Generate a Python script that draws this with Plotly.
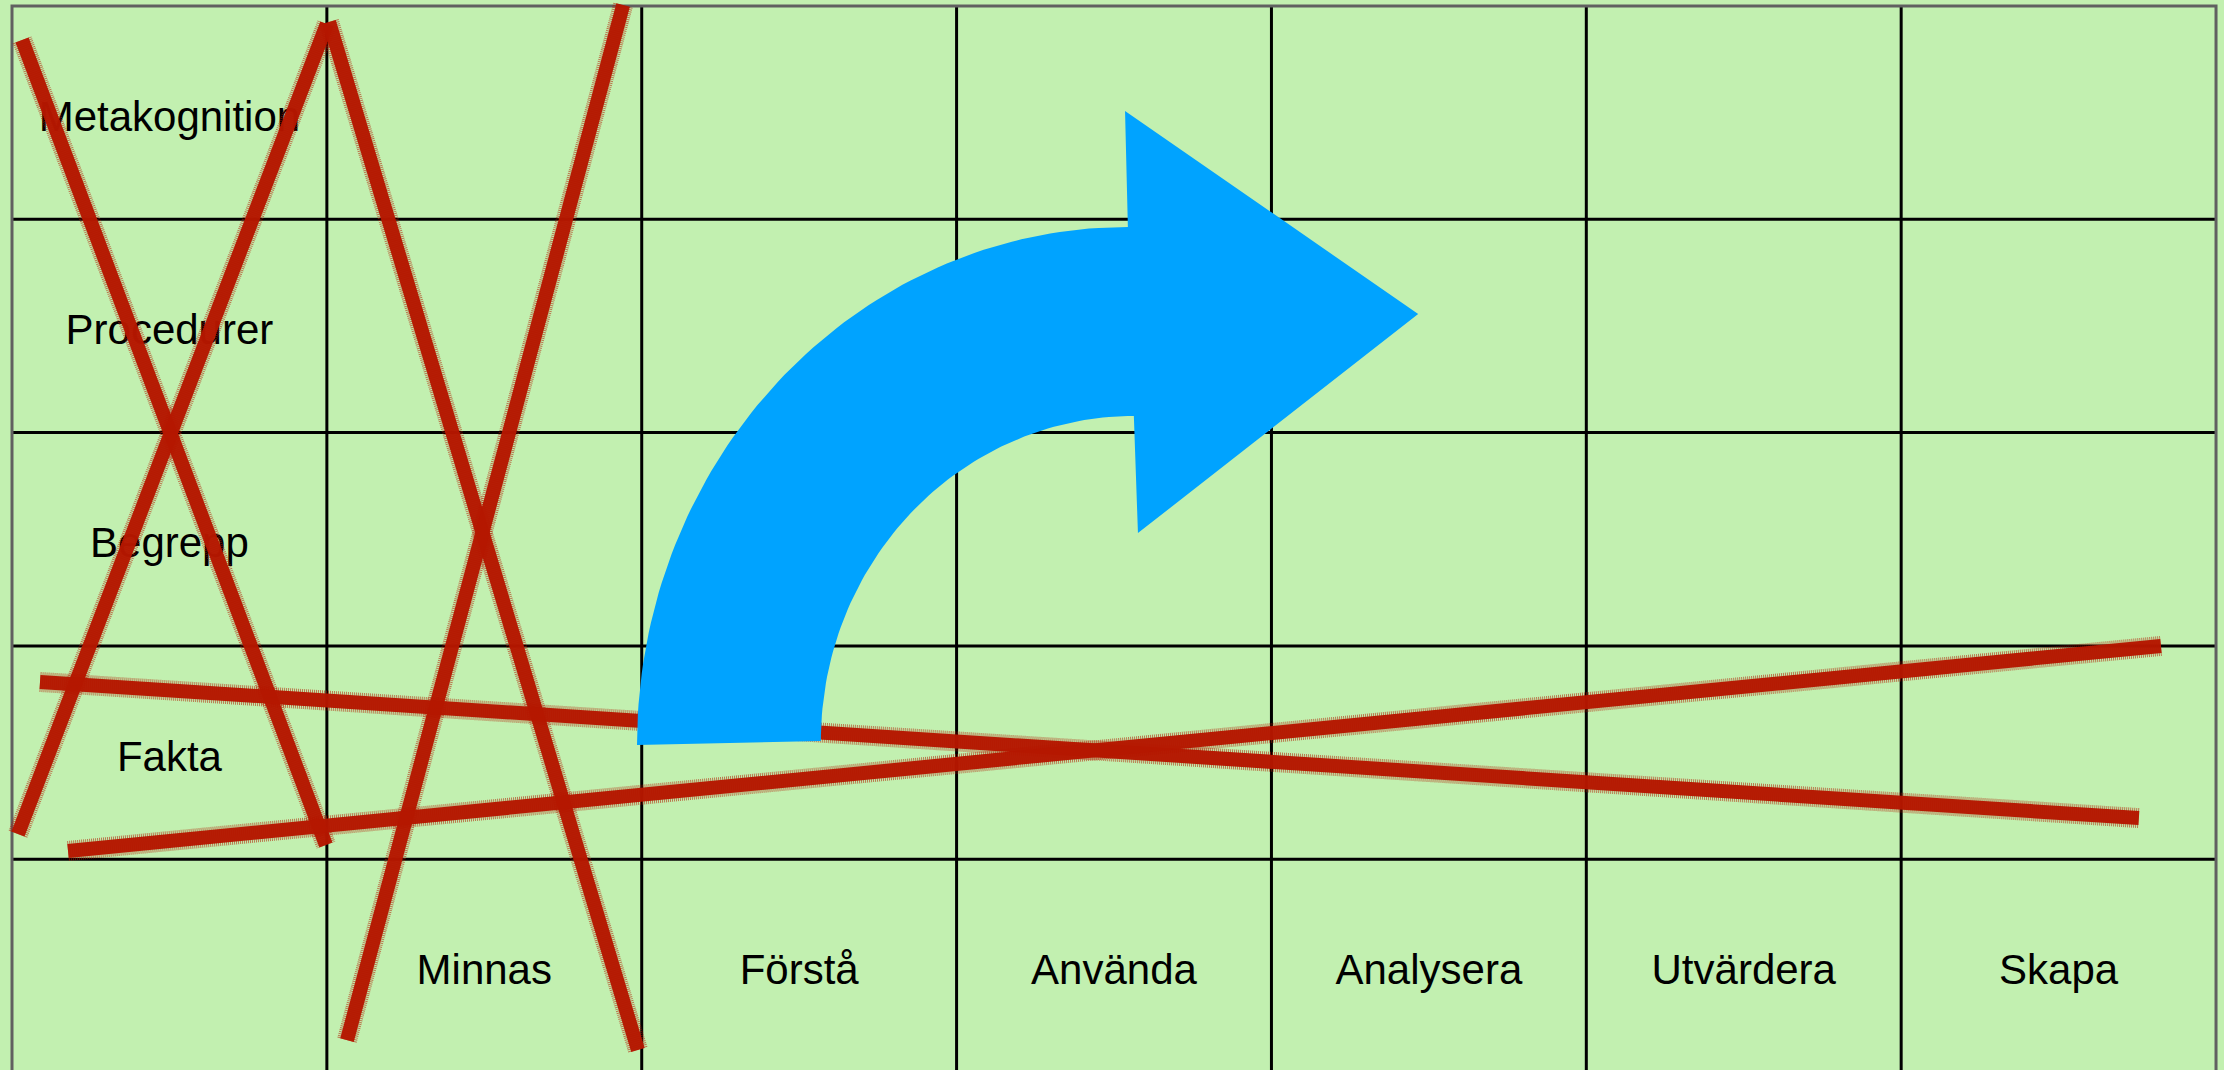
import numpy as np
import plotly.graph_objects as go

# ---- grid content ----
row_labels = ["Metakognition", "Procedurer", "Begrepp", "Fakta", ""]
col_labels = ["", "Minnas", "Förstå", "Använda", "Analysera", "Utvärdera", "Skapa"]
n_cols = len(col_labels)
n_rows = len(row_labels)

# ---- red crayon strike-through strokes (grid units: x = column, y = row from top) ----
strike_x0 = [0.032, 0.019, 1.007, 1.064, 0.089, 0.178]
strike_y0 = [0.159, 3.882, 0.075, 4.848, 3.169, 3.961]
strike_x1 = [0.997, 1.000, 1.988, 1.941, 6.755, 6.825]
strike_y1 = [3.933, 0.084, 4.894, -0.005, 3.807, 3.000]

# ---- blue curved arrow (grid units) ----
arrow_outer_center = [3.544, 3.465]
arrow_outer_radii = [1.559, 2.429]
arrow_inner_center = [3.563, 3.446]
arrow_inner_radii = [0.994, 1.524]
arrow_head_x = [3.535, 4.466, 3.576]
arrow_head_y = [0.492, 1.444, 2.471]

GREEN = "#C2F0B0"
RED = "#B51700"
BLUE = "#00A3FF"
FONT = "Liberation Sans, Arial, sans-serif"
LABEL_DY = 0.035

fig = go.Figure()

# labels (as a text trace so that the strokes draw over them)
lx, ly, lt = [], [], []
for r, lab in enumerate(row_labels):
    if lab:
        lx.append(0.5); ly.append(r + 0.5 + LABEL_DY); lt.append(lab)
for c, lab in enumerate(col_labels):
    if lab:
        lx.append(c + 0.5); ly.append(n_rows - 0.5 + LABEL_DY); lt.append(lab)
fig.add_trace(go.Scatter(x=lx, y=ly, text=lt, mode="text",
                         textposition="middle center",
                         textfont=dict(family=FONT, size=42, color="black"),
                         hoverinfo="skip"))

# red strokes: soft ragged halo + core
for x0, y0, x1, y1 in zip(strike_x0, strike_y0, strike_x1, strike_y1):
    fig.add_trace(go.Scatter(x=[x0, x1], y=[y0, y1], mode="lines",
                             line=dict(color=RED, width=20, dash="1px,1px"),
                             opacity=0.55, hoverinfo="skip"))
    fig.add_trace(go.Scatter(x=[x0, x1], y=[y0, y1], mode="lines",
                             line=dict(color=RED, width=14), opacity=0.97,
                             hoverinfo="skip"))

# arrow polygon
th_out = np.linspace(np.pi, np.pi / 2, 80)
th_in = np.linspace(np.pi / 2, np.pi, 80)
ox = arrow_outer_center[0] + arrow_outer_radii[0] * np.cos(th_out)
oy = arrow_outer_center[1] - arrow_outer_radii[1] * np.sin(th_out)
ix = arrow_inner_center[0] + arrow_inner_radii[0] * np.cos(th_in)
iy = arrow_inner_center[1] - arrow_inner_radii[1] * np.sin(th_in)
ax_ = np.concatenate([ox, arrow_head_x, ix, [ox[0]]])
ay_ = np.concatenate([oy, arrow_head_y, iy, [oy[0]]])
fig.add_trace(go.Scatter(x=ax_, y=ay_, mode="lines", fill="toself",
                         fillcolor=BLUE, line=dict(width=0, color=BLUE),
                         hoverinfo="skip"))

# inner grid lines, confined to the table
for c in range(1, n_cols):
    fig.add_shape(type="line", x0=c, x1=c, y0=0, y1=n_rows, xref="x", yref="y",
                  line=dict(color="black", width=3), layer="below")
for r in range(1, n_rows):
    fig.add_shape(type="line", x0=0, x1=n_cols, y0=r, y1=r, xref="x", yref="y",
                  line=dict(color="black", width=3), layer="below")

# outer border
fig.add_shape(type="rect", x0=0, y0=0, x1=n_cols, y1=n_rows,
              xref="x", yref="y", line=dict(color="#606060", width=3),
              layer="below")

fig.update_layout(
    width=2224, height=1070, autosize=False,
    margin=dict(l=0, r=0, t=0, b=0, pad=0),
    paper_bgcolor=GREEN, plot_bgcolor=GREEN,
    showlegend=False,
    xaxis=dict(range=[-0.0381, 7.0253], showticklabels=False, ticks="",
               showgrid=False, zeroline=False, showline=False, fixedrange=True),
    yaxis=dict(range=[4.988, -0.0281], showticklabels=False, ticks="",
               showgrid=False, zeroline=False, showline=False, fixedrange=True),
)

fig.write_html("out.html", config={"displayModeBar": False},
               post_script="document.body.style.margin='0';"
                           "document.body.style.overflow='hidden';"
                           "document.body.style.background='" + GREEN + "';")
